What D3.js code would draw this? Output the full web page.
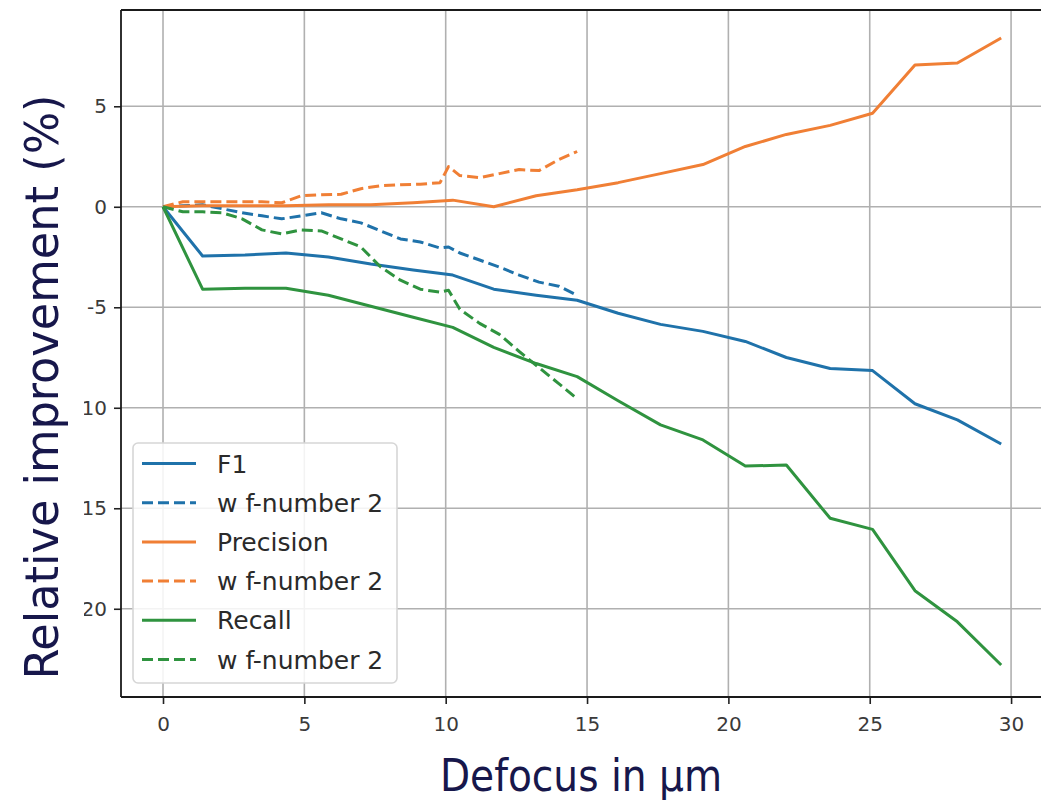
<!DOCTYPE html>
<html>
<head>
<meta charset="utf-8">
<script src="https://cdn.jsdelivr.net/npm/d3@7/dist/d3.min.js"></script>
<style>
  html, body { margin: 0; padding: 0; background: #ffffff; overflow: hidden; }
  svg { display: block; }
</style>
</head>
<body>
<svg id="chart" width="1041" height="801"></svg>
<script>
// ---------------- data ----------------
const defocusSolid = [0, 1.4, 2.9, 4.35, 5.85, 7.35, 8.85, 10.25, 11.7, 13.2, 14.65, 16.1, 17.6, 19.1, 20.6, 22.05, 23.6, 25.1, 26.6, 28.1, 29.65];
const f1 =        [0, -2.45, -2.4, -2.3, -2.5, -2.85, -3.15, -3.4, -4.1, -4.4, -4.65, -5.3, -5.85, -6.2, -6.7, -7.5, -8.05, -8.15, -9.8, -10.6, -11.8];
const precision = [0, 0.05, 0.05, 0.05, 0.1, 0.1, 0.2, 0.33, 0.0, 0.55, 0.85, 1.2, 1.65, 2.1, 3.0, 3.6, 4.05, 4.65, 7.05, 7.15, 8.4];
const recall =    [0, -4.1, -4.05, -4.05, -4.4, -4.95, -5.5, -6.0, -7.0, -7.8, -8.45, -9.65, -10.85, -11.6, -12.9, -12.85, -15.5, -16.05, -19.1, -20.65, -22.8];

const defocusF2 = [0, 0.7, 1.4, 2.1, 2.8, 3.5, 4.2, 4.9, 5.6, 6.3, 7.0, 7.7, 8.4, 9.1, 9.8, 10.1, 10.5, 11.2, 11.9, 12.6, 13.3, 14.0, 14.65];
const f1F2 =        [0, 0.05, 0.1, -0.1, -0.3, -0.45, -0.6, -0.45, -0.3, -0.6, -0.8, -1.2, -1.6, -1.75, -2.05, -2.0, -2.3, -2.65, -3.0, -3.4, -3.75, -3.95, -4.4];
const precisionF2 = [0, 0.25, 0.25, 0.25, 0.25, 0.25, 0.2, 0.55, 0.6, 0.62, 0.9, 1.05, 1.1, 1.12, 1.2, 2.0, 1.55, 1.45, 1.65, 1.85, 1.8, 2.35, 2.75];
const recallF2 =    [0, -0.25, -0.25, -0.3, -0.6, -1.15, -1.35, -1.15, -1.2, -1.6, -2.0, -3.0, -3.65, -4.1, -4.25, -4.15, -5.1, -5.8, -6.35, -7.2, -8.0, -8.8, -9.55];

const seriesNames = ["F1", "w f-number 2", "Precision", "w f-number 2", "Recall", "w f-number 2"];
const xTicks = [0, 5, 10, 15, 20, 25, 30];
const yTicks = [-20, -15, -10, -5, 0, 5];
const xTitle = "Defocus in µm";
const yTitle = "Relative improvement (%)";

// ---------------- layout ----------------
const C = { blue: "#1f72aa", orange: "#f07f35", green: "#2f933f" };
const series = [
  { name: seriesNames[0], xs: defocusSolid, ys: f1, color: C.blue, dash: null },
  { name: seriesNames[1], xs: defocusF2, ys: f1F2, color: C.blue, dash: "11,5" },
  { name: seriesNames[2], xs: defocusSolid, ys: precision, color: C.orange, dash: null },
  { name: seriesNames[3], xs: defocusF2, ys: precisionF2, color: C.orange, dash: "11,5" },
  { name: seriesNames[4], xs: defocusSolid, ys: recall, color: C.green, dash: null },
  { name: seriesNames[5], xs: defocusF2, ys: recallF2, color: C.green, dash: "11,5" }
];

const plot = { left: 121, top: 10, right: 1045, bottom: 697 };
const x = d3.scaleLinear().domain([-1.486, 31.2]).range([plot.left, plot.right]);
const y = d3.scaleLinear().domain([-24.39, 9.79]).range([plot.bottom, plot.top]);

const svg = d3.select("#chart");
svg.append("rect").attr("width", 1041).attr("height", 801).attr("fill", "#fff");

// grid
const grid = svg.append("g");
grid.selectAll("line.gx").data(xTicks).join("line")
  .attr("x1", d => x(d)).attr("x2", d => x(d))
  .attr("y1", plot.top).attr("y2", plot.bottom)
  .attr("stroke", "#b0b0b0").attr("stroke-width", 1.6);
grid.selectAll("line.gy").data(yTicks).join("line")
  .attr("x1", plot.left).attr("x2", 1041)
  .attr("y1", d => y(d)).attr("y2", d => y(d))
  .attr("stroke", "#b0b0b0").attr("stroke-width", 1.6);

// lines
const line = d3.line().x(d => x(d[0])).y(d => y(d[1]));
series.forEach(s => {
  svg.append("path")
    .datum(s.xs.map((v, i) => [v, s.ys[i]]))
    .attr("d", line)
    .attr("fill", "none")
    .attr("stroke", s.color)
    .attr("stroke-width", 3)
    .attr("stroke-linejoin", "round")
    .attr("stroke-dasharray", s.dash);
});

// axes
const fmt = d => String(d).replace("\u2212", "-");
const xAxis = svg.append("g").attr("transform", `translate(0,${plot.bottom})`)
  .call(d3.axisBottom(x).tickValues(xTicks).tickFormat(fmt).tickSize(7).tickPadding(13).tickSizeOuter(0));
const yAxis = svg.append("g").attr("transform", `translate(${plot.left},0)`)
  .call(d3.axisLeft(y).tickValues(yTicks).tickFormat(fmt).tickSize(7).tickPadding(7).tickSizeOuter(0));
[xAxis, yAxis].forEach(g => {
  g.select(".domain").remove();
  g.selectAll(".tick line").attr("stroke", "#222").attr("stroke-width", 1.6);
  g.selectAll(".tick text").attr("fill", "#3a3a3a")
    .style("font-family", "'DejaVu Sans', sans-serif").style("font-size", "20px");
});

// spines (left, top, bottom; the right one lies outside the picture)
const spine = svg.append("g").attr("stroke", "#1a1a1a").attr("stroke-width", 1.8);
spine.append("line").attr("x1", plot.left).attr("x2", plot.left).attr("y1", plot.top).attr("y2", plot.bottom);
spine.append("line").attr("x1", plot.left).attr("x2", 1041).attr("y1", plot.top).attr("y2", plot.top);
spine.append("line").attr("x1", plot.left).attr("x2", 1041).attr("y1", plot.bottom).attr("y2", plot.bottom);

// legend
const lg = svg.append("g");
lg.append("rect").attr("x", 133).attr("y", 443).attr("width", 264).attr("height", 240)
  .attr("rx", 5).attr("fill", "#fff").attr("fill-opacity", 0.85)
  .attr("stroke", "#d6d6d6").attr("stroke-width", 1.6);
series.forEach((s, i) => {
  const yy = 463.5 + i * 39.2;
  lg.append("line").attr("x1", 142).attr("x2", 196).attr("y1", yy).attr("y2", yy)
    .attr("stroke", s.color).attr("stroke-width", 3).attr("stroke-dasharray", s.dash);
  lg.append("text").attr("x", 217).attr("y", yy).attr("dy", "0.36em")
    .attr("fill", "#2a2a2a")
    .style("font-family", "'DejaVu Sans', sans-serif").style("font-size", "25px")
    .text(s.name);
});

// axis titles (overlay style, navy)
svg.append("rect").attr("x", 0).attr("y", 80).attr("width", 84).attr("height", 615).attr("fill", "#fff");
svg.append("text")
  .attr("transform", "translate(58,387) rotate(-90)")
  .attr("text-anchor", "middle")
  .attr("fill", "#17174b")
  .attr("textLength", 585).attr("lengthAdjust", "spacingAndGlyphs")
  .style("font-family", "'DejaVu Sans Condensed', 'DejaVu Sans', sans-serif").style("font-size", "47px")
  .text(yTitle);
svg.append("text")
  .attr("x", 581).attr("y", 791)
  .attr("text-anchor", "middle")
  .attr("fill", "#17174b")
  .attr("textLength", 282).attr("lengthAdjust", "spacingAndGlyphs")
  .style("font-family", "'DejaVu Sans Condensed', 'DejaVu Sans', sans-serif").style("font-size", "44px")
  .text(xTitle);
</script>
</body>
</html>
